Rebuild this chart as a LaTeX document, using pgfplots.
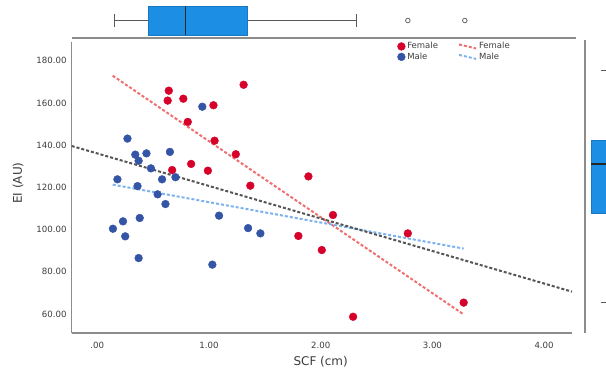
\documentclass[border=0pt]{standalone}
\usepackage{fontspec}
\setmainfont{DejaVu Sans}
\usepackage{pgfplots}
\pgfplotsset{compat=1.18}
\usepgfplotslibrary{statistics}
\definecolor{fred}{RGB}{214,0,42}
\definecolor{mblue}{RGB}{52,84,166}
\definecolor{lred}{RGB}{240,110,110}
\definecolor{lblue}{RGB}{125,178,238}
\definecolor{tgrey}{RGB}{85,85,85}
\definecolor{axgrey}{RGB}{140,140,140}
\definecolor{boxblue}{RGB}{28,142,228}
\definecolor{txt}{RGB}{60,60,60}
\pgfplotsset{
  dotlegend/.style={legend image code/.code={\draw[##1] plot coordinates {(0pt,0pt)};}},
  slantlegend/.style={legend image code/.code={\draw[##1] (0pt,2pt) -- (17pt,-2pt);}},
}
\begin{document}
\begin{tikzpicture}
\useasboundingbox (0pt,0pt) rectangle (606pt,381pt);
\clip (0pt,0pt) rectangle (606pt,381pt);
% ---------- main scatter axis ----------
\begin{axis}[
  at={(71.7pt,48pt)}, anchor=south west, scale only axis,
  width=500.3pt, height=291pt,
  xmin=-0.2292, xmax=4.2498, ymin=51.01, ymax=188.86,
  axis x line*=bottom, axis y line*=left,
  axis line style={-, draw=axgrey, line width=1.5pt},
  major tick length=0pt,
  xtick={0,1,2,3,4}, xticklabels={.00,1.00,2.00,3.00,4.00},
  ytick={60,80,100,120,140,160,180},
  yticklabels={60.00,80.00,100.00,120.00,140.00,160.00,180.00},
  tick label style={font=\fontsize{8.6}{10}\selectfont, text=txt},
  yticklabel style={anchor=east, inner sep=0pt, xshift=-5pt},
  xticklabel style={anchor=north, inner sep=0pt, yshift=-8.5pt},
  xlabel={SCF (cm)}, ylabel={EI (AU)},
  every axis x label/.style={at={(axis description cs:0.4977,-0.0986)}, anchor=center, font=\fontsize{12}{14}\selectfont, text=txt},
  every axis y label/.style={at={(axis description cs:-0.1073,0.515)}, anchor=center, rotate=90, font=\fontsize{12}{14}\selectfont, text=txt},
  legend columns=2,
  legend cell align=left,
  legend style={at={(axis description cs:0.6508,1.006)}, anchor=north west, draw=none, fill=none, inner sep=0pt,
    font=\fontsize{8.5}{10}\selectfont, text=txt, row sep=-1.5pt,
    /tikz/every even column/.append style={column sep=18pt}},
]
\addplot[only marks, mark=*, mark size=3.9pt, color=fred, fill=fred, dotlegend]
  coordinates {
  (1.31,168.6) (0.64,165.8) (0.63,161.1) (0.77,162.0) (1.04,158.9)
  (0.81,151.0) (1.05,142.1) (1.24,135.7) (0.84,131.1) (0.67,128.2)
  (0.99,127.9) (1.37,120.8) (1.89,125.2) (2.11,106.9) (1.80,97.0)
  (2.01,90.3) (2.78,98.2) (2.29,58.7) (3.28,65.4)};
\addlegendentry{Female}
\addplot[lred, line width=2pt, dash pattern=on 3pt off 2pt, slantlegend]
  coordinates {(0.138,172.9) (3.28,59.8)};
\addlegendentry{Female}
\addplot[only marks, mark=*, mark size=3.9pt, color=mblue, fill=mblue, dotlegend]
  coordinates {
  (0.94,158.2) (0.27,143.1) (0.34,135.5) (0.37,132.6) (0.44,136.1)
  (0.65,136.8) (0.48,129.0) (0.18,123.8) (0.58,123.8) (0.70,124.8)
  (0.36,120.6) (0.54,116.7) (0.61,112.1) (1.09,106.6) (0.38,105.5)
  (0.23,103.9) (0.14,100.4) (0.25,96.8) (1.35,100.7) (1.46,98.2)
  (0.37,86.5) (1.03,83.4)};
\addlegendentry{Male}
\addplot[lblue, line width=2pt, dash pattern=on 3pt off 2pt, slantlegend]
  coordinates {(0.138,121.3) (3.28,91.0)};
\addlegendentry{Male}
\addplot[tgrey, line width=2pt, dash pattern=on 3pt off 2pt, forget plot]
  coordinates {(-0.2292,139.6) (4.2498,70.6)};
\end{axis}
% ---------- top marginal boxplot ----------
\begin{axis}[
  at={(71.7pt,343pt)}, anchor=south west, scale only axis,
  width=504.3pt, height=38pt,
  xmin=-0.2292, xmax=4.2856, ymin=0, ymax=38,
  axis x line*=bottom, axis y line=none,
  axis line style={-, draw=axgrey, line width=1.5pt},
  xtick=\empty, ytick=\empty, clip=false,
  boxplot/every box/.style={fill=boxblue, draw=boxblue!85!black, line width=0.6pt},
  boxplot/every whisker/.style={draw=black!65, line width=0.9pt},
  boxplot/every median/.style={draw=black!85, line width=1.3pt},
]
\addplot[boxplot prepared={lower whisker=0.15, lower quartile=0.46, median=0.79,
    upper quartile=1.34, upper whisker=2.32, draw position=17.5,
    box extend=29, whisker extend=13, draw direction=x},
  mark=o, mark size=2.3pt, mark options={draw=black!60, line width=0.8pt, fill=white}]
  table[row sep=\\, y index=0] {x\\ 2.78\\ 3.29\\};
\end{axis}
% ---------- right marginal boxplot ----------
\begin{axis}[
  at={(585pt,48pt)}, anchor=south west, scale only axis,
  width=60pt, height=293pt,
  xmin=0, xmax=60, ymin=51.01, ymax=189.8,
  axis y line*=left, axis x line=none,
  axis line style={-, draw=axgrey, line width=1.5pt},
  xtick=\empty, ytick=\empty,
  boxplot/every box/.style={fill=boxblue, draw=boxblue!85!black, line width=0.6pt},
  boxplot/every whisker/.style={draw=black!65, line width=0.9pt},
  boxplot/every median/.style={draw=black!85, line width=1.3pt},
]
\addplot[boxplot prepared={lower whisker=65.7, lower quartile=107.9, median=131.1,
    upper quartile=142.4, upper whisker=175.6, draw position=22,
    box extend=32, whisker extend=13, draw direction=y}, mark=none]
  table[row sep=\\, y index=0] {y\\ 20\\};
\end{axis}
\end{tikzpicture}
\end{document}
